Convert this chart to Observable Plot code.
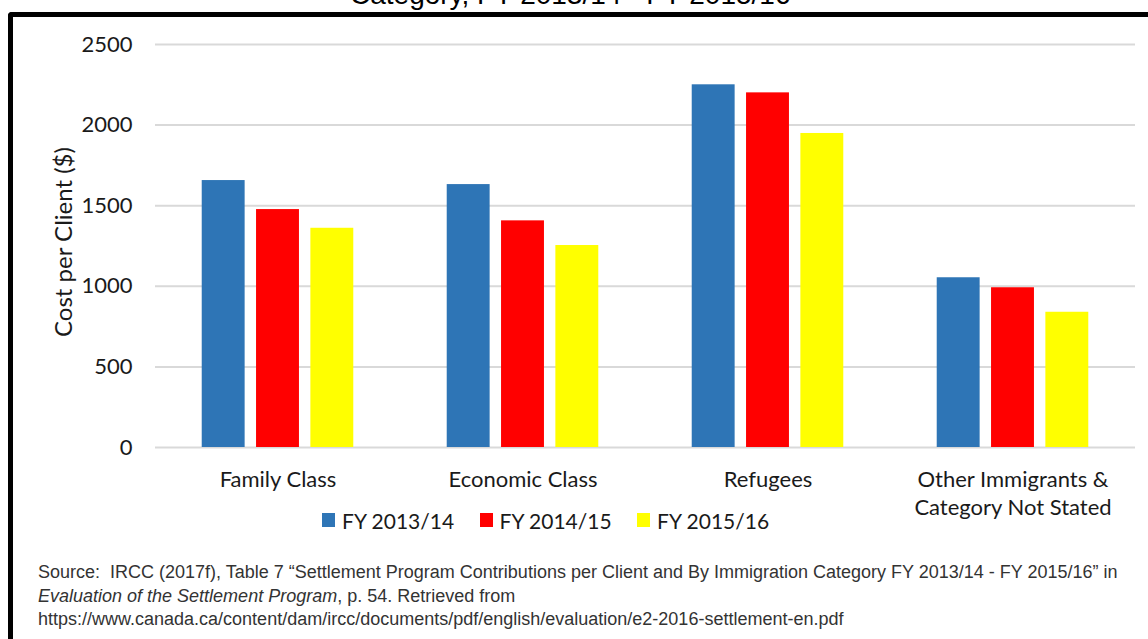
<!DOCTYPE html>
<html>
<head>
<meta charset="utf-8">
<script src="https://cdn.jsdelivr.net/npm/d3@7"></script>
<script src="https://cdn.jsdelivr.net/npm/@observablehq/plot@0.6"></script>
<style>
  html, body { margin: 0; padding: 0; background: #fff; }
  #root { position: relative; width: 1148px; height: 639px; overflow: hidden; background: #fff; }
  #title { position: absolute; left: 350px; top: -19px; font-family: "Liberation Sans", Arial, sans-serif; font-size: 28px; line-height: 28px; white-space: nowrap; color: #000; }
  #frame { position: absolute; left: 8px; top: 12px; width: 2000px; height: 2000px; border-left: 5px solid #000; border-top: 5px solid #000; border-top-left-radius: 4px; box-sizing: border-box; }
  #chart { position: absolute; left: 0; top: 0; }
  #ylabel { position: absolute; left: 62px; top: 242px; transform: translate(-50%, -50%) rotate(-90deg); font-family: Lato, sans-serif; font-size: 24px; white-space: nowrap; color: #1a1a1a; }
  #legend { position: absolute; left: 322px; top: 505px; display: flex; font-family: Lato, sans-serif; font-size: 21px; color: #1a1a1a; }
  .item { display: flex; align-items: center; width: 157.5px; height: 30px; }
  .sw { width: 13px; height: 14px; margin-right: 7px; }
  #source { position: absolute; left: 38px; top: 561px; font-family: "Liberation Sans", Arial, sans-serif; font-size: 18px; line-height: 23.5px; color: #333; white-space: nowrap; }
</style>
</head>
<body>
<div id="root">
  <div id="title"></div>
  <div id="frame"></div>
  <div id="chart"></div>
  <div id="ylabel"></div>
  <div id="legend"></div>
  <div id="source"></div>
</div>
<script>
const titleText = "Category, FY 2013/14 - FY 2015/16";
const yLabel = "Cost per Client ($)";
const categories = ["Family Class", "Economic Class", "Refugees", "Other Immigrants &\nCategory Not Stated"];
const years = ["FY 2013/14", "FY 2014/15", "FY 2015/16"];
const colors = ["#2E75B6", "#FF0000", "#FFFF00"];
const fy1314 = [1656, 1631, 2250, 1053];
const fy1415 = [1476, 1406, 2200, 991];
const fy1516 = [1360, 1253, 1948, 839];
const yTicks = [0, 500, 1000, 1500, 2000, 2500];
const sourceLines = [
  "Source:&nbsp; IRCC (2017f), Table 7 \u201cSettlement Program Contributions per Client and By Immigration Category FY 2013/14 - FY 2015/16\u201d in",
  "<i>Evaluation of the Settlement Program</i>, p. 54. Retrieved from",
  "https://www.canada.ca/content/dam/ircc/documents/pdf/english/evaluation/e2-2016-settlement-en.pdf"
];

const series = [fy1314, fy1415, fy1516];
const data = [];
series.forEach((vals, i) => vals.forEach((v, j) => data.push({category: categories[j], year: years[i], value: v})));

document.getElementById("title").textContent = titleText;
document.getElementById("ylabel").textContent = yLabel;
document.getElementById("source").innerHTML = sourceLines.join("<br>");

const legend = document.getElementById("legend");
years.forEach((y, i) => {
  const it = document.createElement("div");
  it.className = "item";
  const sw = document.createElement("div");
  sw.className = "sw";
  sw.style.background = colors[i];
  const t = document.createElement("span");
  t.textContent = y;
  it.appendChild(sw); it.appendChild(t);
  legend.appendChild(it);
});

const chart = Plot.plot({
  width: 1148,
  height: 540,
  marginLeft: 155,
  marginRight: 13,
  marginTop: 44,
  marginBottom: 93,
  style: {fontFamily: "Lato, sans-serif", fontSize: "22px", color: "#1a1a1a", background: "transparent", overflow: "visible"},
  fx: {domain: categories, padding: 0, label: null, round: false},
  x: {domain: years, paddingInner: 0.21, paddingOuter: 0.86, axis: null, round: false},
  y: {domain: [0, 2500], label: null},
  color: {domain: years, range: colors},
  marks: [
    Plot.gridY(yTicks, {stroke: "#d9d9d9", strokeOpacity: 1, strokeWidth: 2}),
    Plot.barY(data, {fx: "category", x: "year", y: "value", fill: "year"}),
    Plot.axisY(yTicks, {tickSize: 0, tickPadding: 23, label: null, facetAnchor: "left", tickFormat: d => String(d)}),
    Plot.axisFx({anchor: "bottom", tickSize: 0, tickPadding: 19, label: null, lineHeight: 1.3})
  ]
});
document.getElementById("chart").appendChild(chart);
</script>
</body>
</html>
